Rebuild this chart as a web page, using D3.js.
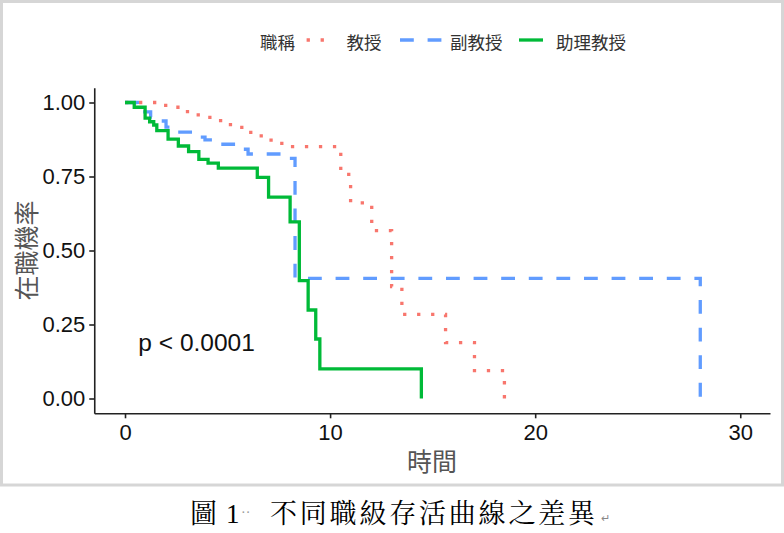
<!DOCTYPE html>
<html>
<head>
<meta charset="utf-8">
<script src="https://cdn.jsdelivr.net/npm/d3@7"></script>
<style>
  body { margin: 0; background: #fff; }
  svg { display: block; }
</style>
</head>
<body>
<div id="chart"></div>
<script>
// groups (legend order = draw order)
var groups = ["教授", "副教授", "助理教授"]
var legendTitle = "職稱"

// 教授 - Kaplan-Meier steps (time, survival)
var profTime = [0, 1.6, 2.3, 2.9, 3.4, 3.9, 4.4, 4.9, 5.45, 5.9, 6.4, 6.9, 7.4, 7.9, 10.52, 11.0, 12.03, 13.0, 13.5, 15.63, 17.04, 18.5]
var profSurv = [1, 0.99, 0.984, 0.969, 0.958, 0.95, 0.939, 0.925, 0.916, 0.899, 0.887, 0.873, 0.862, 0.851, 0.757, 0.661, 0.567, 0.378, 0.284, 0.189, 0.094, 0]

// 副教授
var assocTime = [0, 0.6, 1.25, 1.6, 2.0, 2.4, 3.5, 3.9, 4.5, 5.5, 6.0, 7.9, 8.29, 28.05]
var assocSurv = [1, 0.968, 0.951, 0.9375, 0.917, 0.9, 0.883, 0.874, 0.859, 0.842, 0.826, 0.811, 0.406, 0]

// 助理教授
var asstTime = [0, 0.45, 0.98, 1.2, 1.4, 1.55, 2.1, 2.6, 3.1, 3.6, 4.05, 4.55, 6.45, 7.0, 8.05, 8.5, 8.93, 9.3, 9.5, 14.45]
var asstSurv = [1, 0.984, 0.947, 0.935, 0.924, 0.905, 0.876, 0.853, 0.834, 0.808, 0.795, 0.778, 0.747, 0.68, 0.597, 0.398, 0.299, 0.201, 0.1, 0]

// axis ticks
var xTicks = [0, 10, 20, 30]
var yTicks = [0, 0.25, 0.5, 0.75, 1]
var pText = "p < 0.0001"

var W = 784, H = 533

var svg = d3.select("#chart")
.append("svg")
  .attr("width", W)
  .attr("height", H)

// outer grey frame
svg.append("rect")
  .attr("x", 1.5).attr("y", 1.5)
  .attr("width", W - 3).attr("height", 483.5)
  .attr("fill", "#fff")
  .attr("stroke", "#d6d6d6")
  .attr("stroke-width", 3)

// scales (ggplot 5% expansion)
var x = d3.scaleLinear().domain([-1.5, 31.45]).range([94.25, 770])
var y = d3.scaleLinear().domain([-0.05, 1.05]).range([413.3, 87.7])

var color = d3.scaleOrdinal().domain(groups).range(["#F8766D", "#619CFF", "#00BA38"])
var dash = d3.scaleOrdinal().domain(groups).range(["3.3,10.7", "13.8,13.8", null])

var series = [
  {name: groups[0], t: profTime, s: profSurv},
  {name: groups[1], t: assocTime, s: assocSurv},
  {name: groups[2], t: asstTime, s: asstSurv}
]

var line = d3.line()
  .x(function(d){ return x(d[0]) })
  .y(function(d){ return y(d[1]) })
  .curve(d3.curveStepAfter)

svg.selectAll("path.km")
.data(series)
.enter()
.append("path")
  .attr("class", "km")
  .attr("d", function(d){ return line(d3.zip(d.t, d.s)) })
  .attr("fill", "none")
  .attr("stroke", function(d){ return color(d.name) })
  .attr("stroke-width", 3.3)
  .attr("stroke-dasharray", function(d){ return dash(d.name) })
  .attr("stroke-linecap", "butt")

// axes
var tickFont = "'Liberation Sans', Arial, sans-serif"

var xAxis = svg.append("g")
  .attr("transform", "translate(0," + y.range()[0] + ")")
  .call(d3.axisBottom(x).tickValues(xTicks).tickSize(5).tickSizeOuter(0).tickPadding(5))
var yAxis = svg.append("g")
  .attr("transform", "translate(" + x.range()[0] + ",0)")
  .call(d3.axisLeft(y).tickValues(yTicks).tickSize(5).tickSizeOuter(0).tickPadding(4)
    .tickFormat(d3.format(".2f")))

;[xAxis, yAxis].forEach(function(g){
  g.select(".domain").attr("stroke", "#222").attr("stroke-width", 1.6)
  g.selectAll(".tick line").attr("stroke", "#222").attr("stroke-width", 1.6)
  g.selectAll(".tick text")
    .attr("font-family", tickFont)
    .attr("font-size", 22)
    .attr("fill", "#111")
})
xAxis.selectAll(".tick text").attr("dy", "0.75em")

// axis titles
var cjk = "'Noto Sans CJK TC', 'Noto Sans CJK SC', sans-serif"
svg.append("text")
  .attr("x", (x.range()[0] + x.range()[1]) / 2)
  .attr("y", 460)
  .attr("text-anchor", "middle")
  .attr("dominant-baseline", "central")
  .attr("font-family", cjk)
  .attr("font-size", 25)
  .attr("fill", "#555")
  .text("時間")

svg.append("text")
  .attr("transform", "translate(25," + ((y.range()[0] + y.range()[1]) / 2) + ") rotate(-90)")
  .attr("text-anchor", "middle")
  .attr("dominant-baseline", "central")
  .attr("font-family", cjk)
  .attr("font-size", 25)
  .attr("fill", "#555")
  .text("在職機率")

// p value
svg.append("text")
  .attr("x", x(0.65))
  .attr("y", y(0.16))
  .attr("font-family", tickFont)
  .attr("font-size", 24.5)
  .attr("fill", "#111")
  .text(pText)

// legend
var legY = 40
var legend = svg.append("g")
legend.append("text")
  .attr("x", 260).attr("y", legY + 1.5)
  .attr("dominant-baseline", "central")
  .attr("font-family", cjk).attr("font-size", 17.5).attr("fill", "#333")
  .text(legendTitle)

var keyPos = [[306.6, 330, 346.5], [400, 442, 450], [519, 543, 556]]
groups.forEach(function(g, i){
  legend.append("line")
    .attr("x1", keyPos[i][0]).attr("x2", keyPos[i][1])
    .attr("y1", legY).attr("y2", legY)
    .attr("stroke", color(g))
    .attr("stroke-width", 3.3)
    .attr("stroke-dasharray", dash(g))
  legend.append("text")
    .attr("x", keyPos[i][2]).attr("y", legY + 1.5)
    .attr("dominant-baseline", "central")
    .attr("font-family", cjk).attr("font-size", 17.5).attr("fill", "#333")
    .text(g)
})

// caption below the frame
var capY = 514
var cap = svg.append("text")
  .attr("y", capY)
  .attr("dominant-baseline", "central")
  .attr("font-family", "'Liberation Serif', 'Noto Serif CJK TC', 'Noto Sans CJK TC', serif")
  .attr("font-size", 27)
  .attr("fill", "#000")
cap.append("tspan").attr("x", 190).text("圖")
cap.append("tspan").attr("x", 226).text("1")
cap.append("tspan").attr("x", 241).attr("dy", -2).attr("font-size", 14).attr("fill", "#999").text("··")
cap.append("tspan").attr("x", 270).attr("dy", 2).attr("letter-spacing", 2.8).text("不同職級存活曲線之差異")
cap.append("tspan").attr("x", 601).attr("dy", 4).attr("font-size", 11).attr("fill", "#888").text("↵")
</script>
</body>
</html>
